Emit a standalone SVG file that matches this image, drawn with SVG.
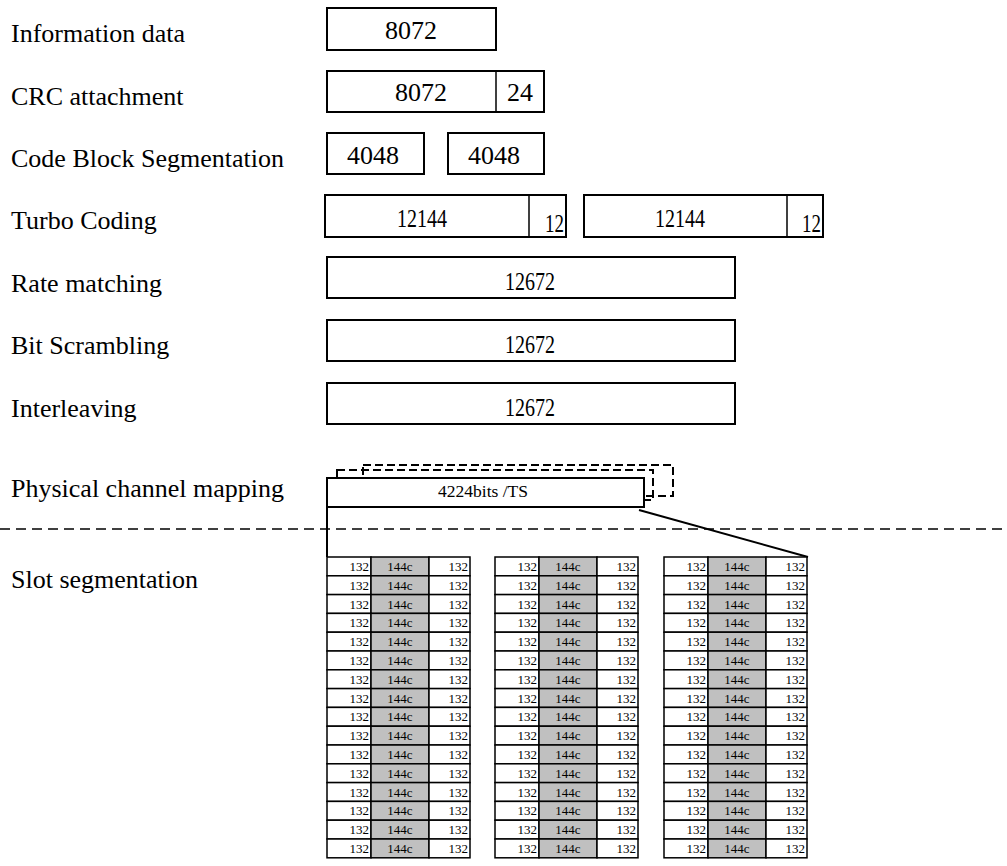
<svg xmlns="http://www.w3.org/2000/svg" xmlns:xlink="http://www.w3.org/1999/xlink" width="1007" height="866" viewBox="0 0 1007 866">
<style>
.lbl{font-family:"Liberation Serif","Times New Roman",serif;font-size:26px;fill:#000}
.bt{font-family:"Liberation Serif","Times New Roman",serif;font-size:26px;fill:#000}
.box{fill:#fff;stroke:#000;stroke-width:2}
.div{fill:none;stroke:#000;stroke-width:1.5}
.dash{fill:none;stroke:#000;stroke-width:2;stroke-dasharray:8 4}
.sep{fill:none;stroke:#000;stroke-width:1.5;stroke-dasharray:10 6}
.ln{fill:none;stroke:#000;stroke-width:2}
.cw{fill:#fff;stroke:#000;stroke-width:1.5}
.cg{fill:#c0c0c0;stroke:#000;stroke-width:1.5}
.ct{font-family:"Liberation Serif","Times New Roman",serif;font-size:13px;fill:#000}
</style>
<defs>
<g id="row">
<rect class="cw" x="0" y="0" width="44" height="18.8"/>
<rect class="cg" x="44" y="0" width="58" height="18.8"/>
<rect class="cw" x="102" y="0" width="41" height="18.8"/>
<text class="ct" x="42" y="14" text-anchor="end">132</text>
<text class="ct" x="73" y="14" text-anchor="middle">144c</text>
<text class="ct" x="141" y="14" text-anchor="end">132</text>
</g>
</defs>
<rect width="1007" height="866" fill="#fff"/>
<g id="labels">
<text class="lbl" x="11" y="42">Information data</text>
<text class="lbl" x="11" y="105">CRC attachment</text>
<text class="lbl" x="11" y="167">Code Block Segmentation</text>
<text class="lbl" x="11" y="229">Turbo Coding</text>
<text class="lbl" x="11" y="292">Rate matching</text>
<text class="lbl" x="11" y="354">Bit Scrambling</text>
<text class="lbl" x="11" y="417">Interleaving</text>
<text class="lbl" x="11" y="497">Physical channel mapping</text>
<text class="lbl" x="11" y="588">Slot segmentation</text>
</g>
<g id="info-data">
<rect class="box" x="327" y="8" width="169" height="42"/>
<text class="bt" x="411" y="39" text-anchor="middle">8072</text>
</g>
<g id="crc">
<rect class="box" x="327" y="71" width="217" height="41"/>
<line class="div" x1="496" y1="71" x2="496" y2="112"/>
<text class="bt" x="421" y="101" text-anchor="middle">8072</text>
<text class="bt" x="507" y="101">24</text>
</g>
<g id="cbs">
<rect class="box" x="327" y="133" width="97" height="41"/>
<text class="bt" x="373" y="164" text-anchor="middle">4048</text>
<rect class="box" x="448" y="133" width="96" height="41"/>
<text class="bt" x="494" y="164" text-anchor="middle">4048</text>
</g>
<g id="turbo">
<rect class="box" x="325" y="195" width="241" height="42"/>
<line class="div" x1="529" y1="195" x2="529" y2="237"/>
<text class="bt" x="397" y="227" textLength="50" lengthAdjust="spacingAndGlyphs">12144</text>
<text class="bt" x="545" y="232" textLength="19" lengthAdjust="spacingAndGlyphs">12</text>
<rect class="box" x="584" y="195" width="239" height="42"/>
<line class="div" x1="787" y1="195" x2="787" y2="237"/>
<text class="bt" x="655" y="227" textLength="50" lengthAdjust="spacingAndGlyphs">12144</text>
<text class="bt" x="802" y="232" textLength="19" lengthAdjust="spacingAndGlyphs">12</text>
</g>
<g id="rate">
<rect class="box" x="327" y="257" width="408" height="41"/>
<text class="bt" x="505" y="290" textLength="50" lengthAdjust="spacingAndGlyphs">12672</text>
</g>
<g id="scramble">
<rect class="box" x="327" y="320" width="408" height="41"/>
<text class="bt" x="505" y="353" textLength="50" lengthAdjust="spacingAndGlyphs">12672</text>
</g>
<g id="interleave">
<rect class="box" x="327" y="383" width="408" height="41"/>
<text class="bt" x="505" y="416" textLength="50" lengthAdjust="spacingAndGlyphs">12672</text>
</g>
<g id="phys">
<rect class="dash" x="363" y="465" width="310" height="31"/>
<rect class="dash" x="337" y="470" width="316" height="30"/>
<rect class="box" x="327" y="478" width="317" height="29"/>
<text x="483" y="497" text-anchor="middle" style="font-family:'Liberation Serif','Times New Roman',serif;font-size:17.5px">4224bits /TS</text>
</g>
<g id="connectors">
<line class="sep" x1="0" y1="529" x2="1007" y2="529"/>
<line class="ln" x1="327" y1="507" x2="327" y2="557"/>
<line class="ln" x1="639" y1="510" x2="808" y2="557"/>
</g>
<g id="slot-grid-1">
<use xlink:href="#row" x="327" y="557"/><use xlink:href="#row" x="327" y="575.8"/><use xlink:href="#row" x="327" y="594.6"/><use xlink:href="#row" x="327" y="613.4"/>
<use xlink:href="#row" x="327" y="632.2"/><use xlink:href="#row" x="327" y="651"/><use xlink:href="#row" x="327" y="669.8"/><use xlink:href="#row" x="327" y="688.6"/>
<use xlink:href="#row" x="327" y="707.4"/><use xlink:href="#row" x="327" y="726.2"/><use xlink:href="#row" x="327" y="745"/><use xlink:href="#row" x="327" y="763.8"/>
<use xlink:href="#row" x="327" y="782.6"/><use xlink:href="#row" x="327" y="801.4"/><use xlink:href="#row" x="327" y="820.2"/><use xlink:href="#row" x="327" y="839"/>
</g>
<g id="slot-grid-2">
<use xlink:href="#row" x="495" y="557"/><use xlink:href="#row" x="495" y="575.8"/><use xlink:href="#row" x="495" y="594.6"/><use xlink:href="#row" x="495" y="613.4"/>
<use xlink:href="#row" x="495" y="632.2"/><use xlink:href="#row" x="495" y="651"/><use xlink:href="#row" x="495" y="669.8"/><use xlink:href="#row" x="495" y="688.6"/>
<use xlink:href="#row" x="495" y="707.4"/><use xlink:href="#row" x="495" y="726.2"/><use xlink:href="#row" x="495" y="745"/><use xlink:href="#row" x="495" y="763.8"/>
<use xlink:href="#row" x="495" y="782.6"/><use xlink:href="#row" x="495" y="801.4"/><use xlink:href="#row" x="495" y="820.2"/><use xlink:href="#row" x="495" y="839"/>
</g>
<g id="slot-grid-3">
<use xlink:href="#row" x="664" y="557"/><use xlink:href="#row" x="664" y="575.8"/><use xlink:href="#row" x="664" y="594.6"/><use xlink:href="#row" x="664" y="613.4"/>
<use xlink:href="#row" x="664" y="632.2"/><use xlink:href="#row" x="664" y="651"/><use xlink:href="#row" x="664" y="669.8"/><use xlink:href="#row" x="664" y="688.6"/>
<use xlink:href="#row" x="664" y="707.4"/><use xlink:href="#row" x="664" y="726.2"/><use xlink:href="#row" x="664" y="745"/><use xlink:href="#row" x="664" y="763.8"/>
<use xlink:href="#row" x="664" y="782.6"/><use xlink:href="#row" x="664" y="801.4"/><use xlink:href="#row" x="664" y="820.2"/><use xlink:href="#row" x="664" y="839"/>
</g>
</svg>
